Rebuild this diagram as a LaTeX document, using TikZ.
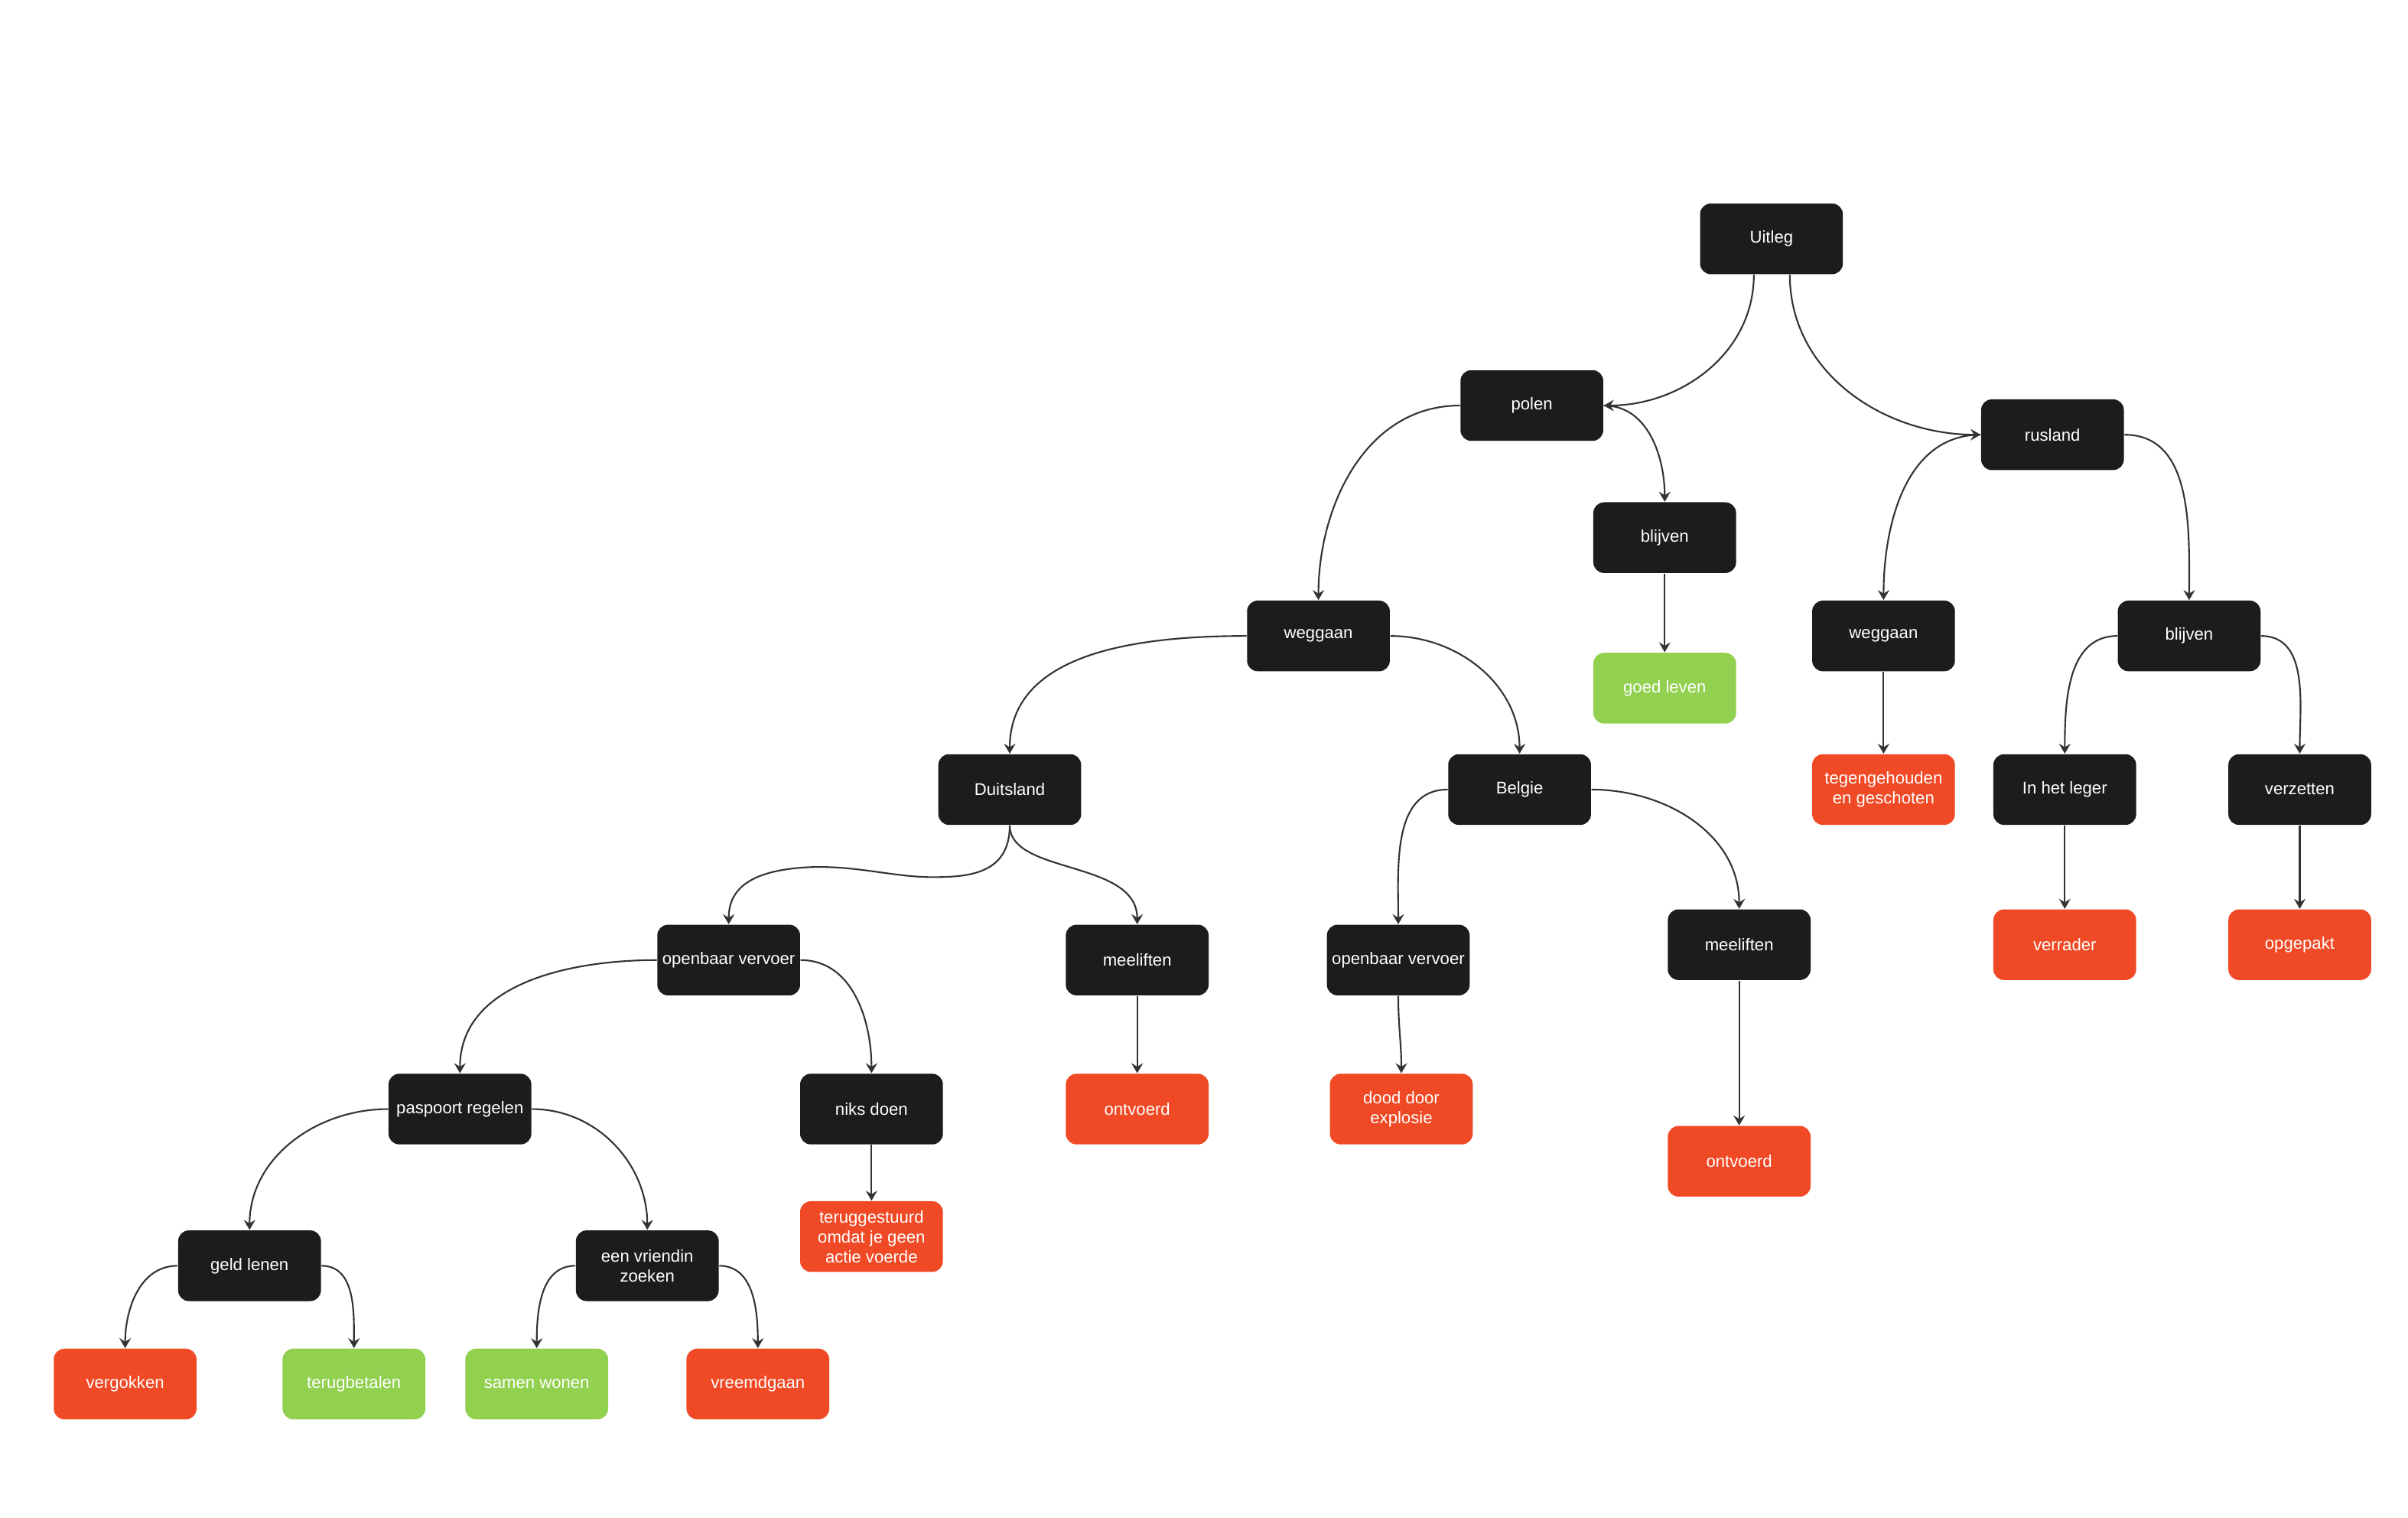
\documentclass[tikz,border=0pt]{standalone}
\usepackage{fontspec}
\setmainfont{Liberation Sans}
\usetikzlibrary{arrows.meta}
\definecolor{nblack}{HTML}{1C1C1C}
\definecolor{nred}{HTML}{F04925}
\definecolor{ngreen}{HTML}{92D050}
\definecolor{edgec}{HTML}{333333}
\begin{document}
\begin{tikzpicture}[x=0.020077cm,y=-0.020077cm,
  box/.style={rounded corners=0.14cm, minimum width=1.867cm, minimum height=0.924cm,
    inner sep=0pt, align=center, text=white, font=\fontsize{6.3}{7.4}\selectfont},
  dk/.style={box, fill=nblack},
  rd/.style={box, fill=nred},
  gr/.style={box, fill=ngreen},
  conn/.style={draw=edgec, line width=0.6pt,
    -{Stealth[length=1.3mm,width=1.5mm,inset=0.45mm]}}]
\useasboundingbox (0,0) rectangle (1568,988);

% nodes
\node[dk] (uit)   at (1153.5,155.5) {Uitleg};
\node[dk] (pol)   at (997.5,264) {polen};
\node[dk] (rus)   at (1336.5,283) {rusland};
\node[dk] (pbl)   at (1084,350) {blijven};
\node[gr] (goed)  at (1084,448) {goed leven};
\node[dk] (pweg)  at (858.5,414) {weggaan};
\node[dk] (rweg)  at (1226.5,414) {weggaan};
\node[dk] (rbl)   at (1425.5,414) {blijven};
\node[dk] (dui)   at (657.5,514) {Duitsland};
\node[dk] (bel)   at (989.5,514) {Belgie};
\node[rd] (teg)   at (1226.5,514) {tegengehouden\\en geschoten};
\node[dk] (leger) at (1344.5,514) {In het leger};
\node[dk] (verz)  at (1497.5,514) {verzetten};
\node[dk] (dov)   at (474.5,625) {openbaar vervoer};
\node[dk] (dmee)  at (740.5,625) {meeliften};
\node[dk] (bov)   at (910.5,625) {openbaar vervoer};
\node[dk] (bmee)  at (1132.5,615) {meeliften};
\node[rd] (verr)  at (1344.5,615) {verrader};
\node[rd] (opg)   at (1497.5,615) {opgepakt};
\node[dk] (pasp)  at (299.5,722) {paspoort regelen};
\node[dk] (niks)  at (567.5,722) {niks doen};
\node[rd] (dontv) at (740.5,722) {ontvoerd};
\node[rd] (dood)  at (912.5,722) {dood door\\explosie};
\node[rd] (bontv) at (1132.5,756) {ontvoerd};
\node[rd] (terug) at (567.5,805) {teruggestuurd\\omdat je geen\\actie voerde};
\node[dk] (geld)  at (162.5,824) {geld lenen};
\node[dk] (vrien) at (421.5,824) {een vriendin\\zoeken};
\node[rd] (vergok) at (81.5,901) {vergokken};
\node[gr] (terugb) at (230.5,901) {terugbetalen};
\node[gr] (samen)  at (349.5,901) {samen wonen};
\node[rd] (vreemd) at (493.5,901) {vreemdgaan};

% waypoints
\coordinate (w1) at (607,571);
\coordinate (w2) at (520,565);

% connectors
\draw[conn] ([xshift=-0.23cm]uit.south) to[out=-90,in=0] (pol.east);
\draw[conn] ([xshift=0.24cm]uit.south) to[out=-90,in=180] (rus.west);
\draw[conn] (pol.west) to[out=180,in=90] (pweg.north);
\draw[conn] (pol.east) to[out=0,in=90] (pbl.north);
\draw[conn] (pbl.south) -- (goed.north);
\draw[conn] (rus.west) to[out=180,in=90] (rweg.north);
\draw[conn] (rus.east) to[out=0,in=90] (rbl.north);
\draw[conn] (pweg.west) to[out=180,in=90] (dui.north);
\draw[conn] (pweg.east) to[out=0,in=90] (bel.north);
\draw[conn] (rweg.south) -- (teg.north);
\draw[conn] (rbl.west) to[out=180,in=90] (leger.north);
\draw[conn] (rbl.east) to[out=0,in=90] (verz.north);
\draw[conn] (leger.south) -- (verr.north);
\draw[conn] (verz.south) -- (opg.north);
\draw[conn] (dui.south) .. controls +(0,32) and +(23,0) .. (w1)
   .. controls +(-27,0) and +(33,-3) .. (w2)
   .. controls +(-33,3) and +(0,-22) .. (dov.north);
\draw[conn] (dui.south) .. controls +(0,32) and +(0,-42) .. (dmee.north);
\draw[conn] (bel.west) to[out=180,in=90] (bov.north);
\draw[conn] (bel.east) to[out=0,in=90] (bmee.north);
\draw[conn] (dov.west) to[out=180,in=90] (pasp.north);
\draw[conn] (dov.east) to[out=0,in=90] (niks.north);
\draw[conn] (dmee.south) -- (dontv.north);
\draw[conn] (bov.south) to[out=-90,in=90] (dood.north);
\draw[conn] (bmee.south) -- (bontv.north);
\draw[conn] (pasp.west) to[out=180,in=90] (geld.north);
\draw[conn] (pasp.east) to[out=0,in=90] (vrien.north);
\draw[conn] (niks.south) -- (terug.north);
\draw[conn] (geld.west) to[out=180,in=90] (vergok.north);
\draw[conn] (geld.east) to[out=0,in=90] (terugb.north);
\draw[conn] (vrien.west) to[out=180,in=90] (samen.north);
\draw[conn] (vrien.east) to[out=0,in=90] (vreemd.north);
\end{tikzpicture}
\end{document}
